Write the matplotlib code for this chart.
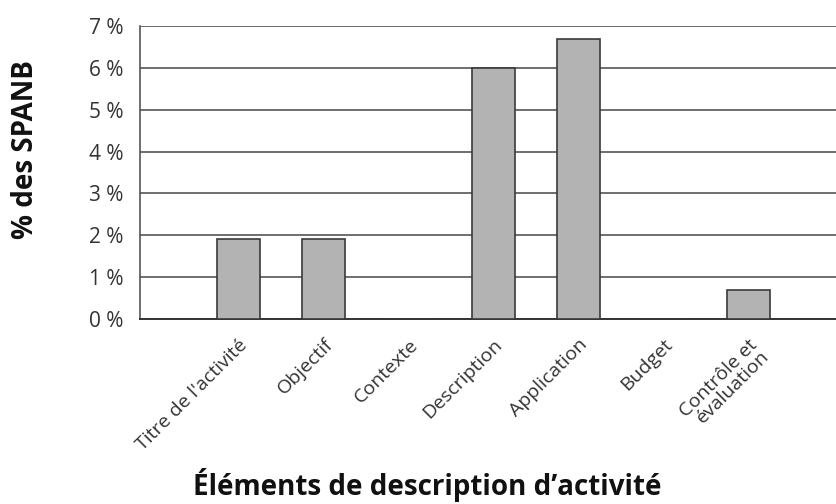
import matplotlib.pyplot as plt

plt.rcParams['font.family'] = ['Open Sans', 'DejaVu Sans']

# Pourcentage des SPANB par élément de description
categories = ["Titre de l'activité", "Objectif", "Contexte", "Description",
              "Application", "Budget", "Contrôle et\névaluation"]
values = [1.9, 1.9, 0.0, 6.0, 6.7, 0.0, 0.7]
yticks = [0, 1, 2, 3, 4, 5, 6, 7]

fig = plt.figure(figsize=(8.36, 5.04), dpi=100)
ax = fig.add_axes([140 / 836, 185 / 504, 696 / 836, 293 / 504])

x = list(range(len(categories)))
ax.bar(x, values, width=0.5, color='#b3b3b3', edgecolor='#3a3a3a',
       linewidth=1.2, zorder=3)

ax.set_xlim(-1.16, 7.03)
ax.set_ylim(0, 7)
ax.set_yticks(yticks)
ax.set_yticklabels([f"{v} %" for v in yticks], fontsize=15, color='#333333')
ax.yaxis.grid(True, color='#555555', linewidth=1.2, zorder=0)
ax.tick_params(axis='y', length=0, pad=12)
ax.tick_params(axis='x', length=0, pad=12)

ax.set_xticks(x)
ax.set_xticklabels(categories, rotation=45, ha='right',
                   rotation_mode='anchor', fontsize=14, color='#333333',
                   linespacing=0.85)

for side in ['top', 'right']:
    ax.spines[side].set_visible(False)
ax.spines['left'].set_color('#555555')
ax.spines['bottom'].set_color('#333333')
ax.spines['left'].set_linewidth(1.2)
ax.spines['bottom'].set_linewidth(1.4)

fig.text(26 / 836, 1 - 149 / 504, "% des SPANB", rotation=90, ha='center',
         va='center', fontsize=20, fontweight='bold', color='#111111')
fig.text(427 / 836, 1 - 485 / 504, "Éléments de description d’activité",
         ha='center', va='center', fontsize=20, fontweight='bold',
         color='#111111')

fig.savefig("out.png", dpi=100)
